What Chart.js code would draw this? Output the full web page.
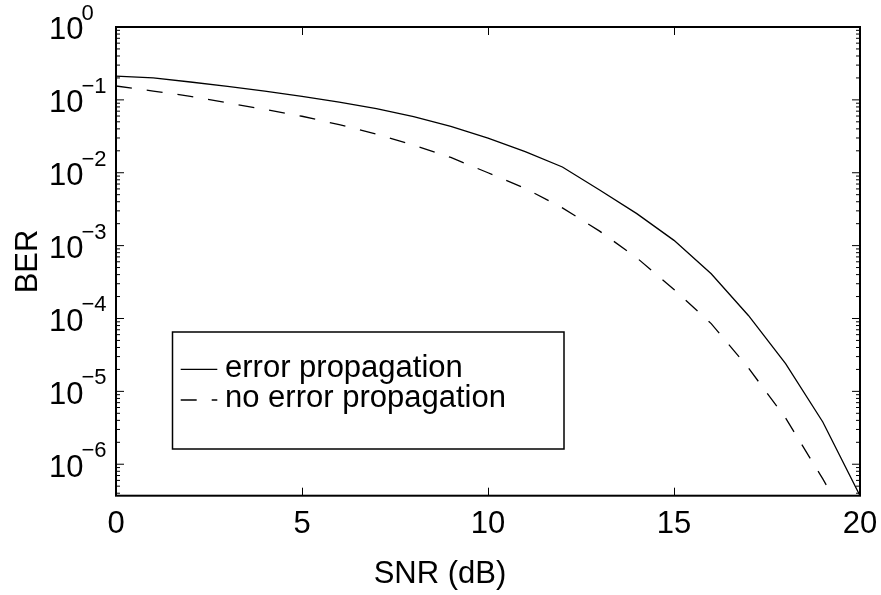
<!DOCTYPE html>
<html>
<head>
<meta charset="utf-8">
<script src="https://cdn.jsdelivr.net/npm/chart.js@4.4.0/dist/chart.umd.min.js"></script>
<style>
body{margin:0;background:#fff;}
canvas{display:block;}
</style>
</head>
<body>
<canvas id="berChart" width="881" height="595"></canvas>
<script>
// values
const snr = [0,1,2,3,4,5,6,7,8,9,10,11,12,13,14,15,16,17,18,19,20];
const berErrProp = [0.212,0.200,0.176,0.153,0.132,0.112,0.093,0.076,0.059,0.0433,0.0299,0.0195,0.0120,0.0058,0.00275,0.00118,4.1e-4,1.1e-4,2.4e-5,3.8e-6,3.7e-7];
const berNoErrProp = [0.155,0.132,0.112,0.091,0.074,0.0596,0.0457,0.0339,0.024,0.0162,0.010,0.0061,0.0033,0.00158,6.8e-4,2.5e-4,8.5e-5,2.1e-5,4.3e-6,6.3e-7,8e-8];
const seriesNames = ["error propagation", "no error propagation"];
const xTicks = [0,5,10,15,20];
const yExponents = [0,-1,-2,-3,-4,-5,-6];
const xLabel = "SNR (dB)";
const yLabel = "BER";

const FONT = "Liberation Sans, Arial, sans-serif";

function toPoints(ys){
    return snr.map((x, i) => ({x: x, y: ys[i]}));
}

// axes box, inward ticks, tick labels, titles and legend (matlab look)
const matlabAxes = {
    id: "matlabAxes",
    afterDatasetsDraw(chart){
        const ctx = chart.ctx;
        const a = chart.chartArea;
        const xs = chart.scales.x;
        const ys = chart.scales.y;

        ctx.save();
        ctx.strokeStyle = "#000";
        ctx.fillStyle = "#000";

        // ticks
        ctx.lineWidth = 1;
        ctx.beginPath();
        xTicks.forEach(t => {
            const px = Math.round(xs.getPixelForValue(t)) + 0.5;
            ctx.moveTo(px, a.bottom); ctx.lineTo(px, a.bottom - 8);
            ctx.moveTo(px, a.top); ctx.lineTo(px, a.top + 8);
        });
        yExponents.forEach(e => {
            const py = ys.getPixelForValue(Math.pow(10, e));
            ctx.moveTo(a.left, py); ctx.lineTo(a.left + 8, py);
            ctx.moveTo(a.right, py); ctx.lineTo(a.right - 8, py);
            for(let m = 2; m <= 9; m++){
                const v = m * Math.pow(10, e - 1);
                if(v < ys.min || v > ys.max) continue;
                const pm = ys.getPixelForValue(v);
                ctx.moveTo(a.left, pm); ctx.lineTo(a.left + 4, pm);
                ctx.moveTo(a.right, pm); ctx.lineTo(a.right - 4, pm);
            }
        });
        ctx.stroke();

        // frame
        ctx.lineWidth = 2;
        ctx.strokeRect(a.left, a.top, a.right - a.left, a.bottom - a.top);

        // x tick labels
        ctx.font = "31px " + FONT;
        ctx.textAlign = "center";
        ctx.textBaseline = "alphabetic";
        xTicks.forEach(t => {
            ctx.fillText(String(t), xs.getPixelForValue(t), 532.8);
        });

        // y tick labels 10^n
        yExponents.forEach(e => {
            const py = ys.getPixelForValue(Math.pow(10, e));
            ctx.font = "31px " + FONT;
            ctx.textAlign = "right";
            ctx.fillText("10", 83.5, py + 12.3);
            ctx.font = "22px " + FONT;
            ctx.textAlign = "left";
            ctx.fillText(String(e).replace("-", "\u2212"), 81.5, py - 7);
        });

        // axis titles
        ctx.font = "31px " + FONT;
        ctx.textAlign = "center";
        ctx.fillText(xLabel, 440, 582.7);
        ctx.save();
        ctx.translate(36.5, 261.5);
        ctx.rotate(-Math.PI / 2);
        ctx.fillText(yLabel, 0, 0);
        ctx.restore();

        // legend
        ctx.fillStyle = "#fff";
        ctx.fillRect(172.5, 332, 391.5, 117);
        ctx.lineWidth = 1.5;
        ctx.strokeRect(172.5, 332, 391.5, 117);
        ctx.fillStyle = "#000";
        ctx.textAlign = "left";
        const rows = [369.3, 400];
        const bases = [376.7, 407.3];
        chart.data.datasets.forEach((ds, i) => {
            ctx.lineWidth = ds.borderWidth;
            ctx.setLineDash(ds.borderDash || []);
            ctx.beginPath();
            ctx.moveTo(180.7, rows[i]);
            ctx.lineTo(217.3, rows[i]);
            ctx.stroke();
            ctx.setLineDash([]);
            ctx.fillText(ds.label, 225, bases[i]);
        });

        ctx.restore();
    }
};

new Chart(document.getElementById("berChart"), {
    type: "line",
    data: {
        datasets: [{
            label: seriesNames[0],
            data: toPoints(berErrProp),
            borderColor: "#000",
            borderWidth: 1.3,
            pointRadius: 0,
            tension: 0,
            fill: false
        },{
            label: seriesNames[1],
            data: toPoints(berNoErrProp),
            borderColor: "#000",
            borderWidth: 1.3,
            borderDash: [16, 15],
            pointRadius: 0,
            tension: 0,
            fill: false
        }]
    },
    options: {
        responsive: false,
        animation: false,
        devicePixelRatio: 1,
        layout: {padding: {left: 116, top: 27, right: 21, bottom: 99.3}},
        plugins: {legend: {display: false}, tooltip: {enabled: false}},
        scales: {
            x: {type: "linear", min: 0, max: 20, display: false},
            y: {type: "logarithmic", min: 3.7e-7, max: 1, display: false}
        }
    },
    plugins: [matlabAxes]
});
</script>
</body>
</html>
